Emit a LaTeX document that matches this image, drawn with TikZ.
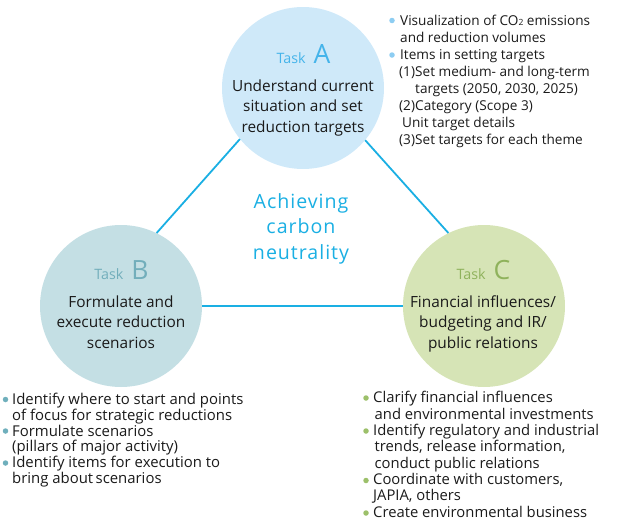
\documentclass[tikz,border=0pt]{standalone}
\usepackage{fontspec}
\setmainfont{Open Sans}
\definecolor{circA}{HTML}{CFE9F9}
\definecolor{circB}{HTML}{C4DFE4}
\definecolor{circC}{HTML}{D6E4B6}
\definecolor{taskA}{HTML}{45B4EA}
\definecolor{taskB}{HTML}{72AEBB}
\definecolor{taskC}{HTML}{8FB25C}
\definecolor{bulA}{HTML}{8DCDF2}
\definecolor{bulB}{HTML}{6FAFBC}
\definecolor{bulC}{HTML}{9CC06A}
\definecolor{linkc}{HTML}{1AAFE3}
\definecolor{txt}{HTML}{1A1A1A}
\newcommand{\numbox}[1]{\makebox[16pt][l]{(#1)}}
\begin{document}
\begin{tikzpicture}[x=1pt,y=-1pt,
  taskcircle/.style={circle,minimum size=162pt,inner sep=0pt},
  link/.style={draw=linkc,line width=1.8pt},
  circtext/.style={align=center,text=txt,font=\fontsize{15.4}{20.4}\selectfont,anchor=base,inner sep=0pt},
  tasklabel/.style={anchor=base,font=\fontsize{14.3}{15}\selectfont,inner sep=0pt},
  bullettext/.style={align=left,text=txt,anchor=base west,inner sep=0pt},
  bul/.style={circle,inner sep=0pt,minimum size=5.5pt}
]
\useasboundingbox (0,0) rectangle (619,525);
% circles
\node[taskcircle,fill=circA] (A) at (303,88) {};
\node[taskcircle,fill=circB] (B) at (121,306) {};
\node[taskcircle,fill=circC] (C) at (484,306) {};
% connectors
\draw[link] (A.219.5) -- (B.64);
\draw[link] (A.320.5) -- (C.116);
\draw[link] (B.east) -- (C.west);
% task labels
\node[tasklabel,text=taskA] (tA) at (303.5,63) {Task\hspace{8pt}{\fontsize{26.5}{26}\selectfont A}};
\node[tasklabel,text=taskB] (tB) at (121.5,279) {Task\hspace{8pt}{\fontsize{26.5}{26}\selectfont B}};
\node[tasklabel,text=taskC] (tC) at (483.5,279) {Task\hspace{8pt}{\fontsize{26.5}{26}\selectfont C}};
% circle texts (anchor = baseline of last line)
\node[circtext] (xA) at (303,132) {Understand current\\situation and set\\reduction targets};
\node[circtext] (xB) at (121,348) {Formulate and\\execute reduction\\scenarios};
\node[circtext] (xC) at (483,348) {Financial influences/\\budgeting and IR/\\public relations};
% centre
\node[align=center,anchor=base,inner sep=0pt,text=linkc,font=\fontsize{19.6}{25.5}\selectfont\addfontfeature{LetterSpace=5}] (mid) at (301,259) {Achieving\\carbon\\neutrality};
% top-right list
\node[bullettext,font=\fontsize{13.6}{17.1}\selectfont] (lA) at (400,144.7)
 {Visualization of CO{\fontsize{8.5}{9}\selectfont 2} emissions\\
  and reduction volumes\\
  Items in setting targets\\
  \hspace*{-1pt}\numbox{1}Set medium- and long-term\\
  \hspace*{15pt}targets (2050, 2030, 2025)\\
  \hspace*{-1pt}\numbox{2}Category (Scope 3)\\
  \hspace*{2pt}Unit target details\\
  \hspace*{-1pt}\numbox{3}Set targets for each theme};
\node[bul,fill=bulA] (bA1) at (392,20.5) {};
\node[bul,fill=bulA] (bA2) at (392,55) {};
% bottom-left list
\node[bullettext,font=\fontsize{14.9}{15.8}\selectfont] (lB) at (12,483.5)
 {Identify where to start and points\\
  of focus for strategic reductions\\
  Formulate scenarios\\
  (pillars of major activity)\\
  Identify items for execution to\\
  bring about\,scenarios};
\node[bul,fill=bulB] (bB1) at (5.5,399.5) {};
\node[bul,fill=bulB] (bB2) at (5.5,431) {};
\node[bul,fill=bulB] (bB3) at (5.5,463) {};
% bottom-right list
\node[bullettext,font=\fontsize{14.8}{16.3}\selectfont] (lC) at (373,517)
 {Clarify financial influences\\
  \hspace*{1.5pt}and environmental investments\\
  Identify regulatory and industrial\\
  \hspace*{1.5pt}trends, release information,\\
  \hspace*{1.5pt}conduct public relations\\
  Coordinate with customers,\\
  JAPIA, others\\
  Create environmental business};
\node[bul,fill=bulC] (bC1) at (366,398) {};
\node[bul,fill=bulC] (bC2) at (366,431) {};
\node[bul,fill=bulC] (bC3) at (366,480.5) {};
\node[bul,fill=bulC] (bC4) at (366,513) {};
\end{tikzpicture}
\end{document}
